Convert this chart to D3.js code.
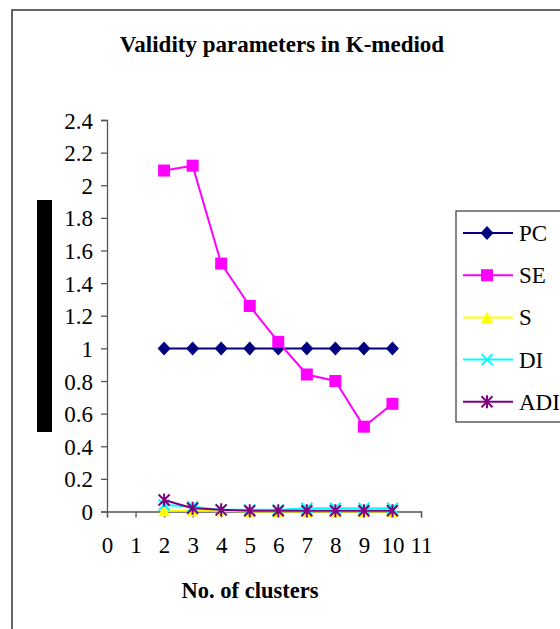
<!DOCTYPE html>
<html>
<head>
<meta charset="utf-8">
<script src="https://cdn.jsdelivr.net/npm/d3@7"></script>
<style>
  body { margin: 0; background: #fff; }
  svg { display: block; }
  svg text { font-family: "Liberation Serif", "Times New Roman", Times, serif; }
</style>
</head>
<body>
<div id="chart"></div>
<script>
// Data
const clusters = [2, 3, 4, 5, 6, 7, 8, 9, 10];
const pcValues = [1, 1, 1, 1, 1, 1, 1, 1, 1];
const seValues = [2.09, 2.12, 1.52, 1.26, 1.04, 0.84, 0.8, 0.52, 0.66];
const sValues = [0.005, 0.005, 0.005, 0, 0, 0, 0, 0, 0];
const diValues = [0.04, 0.03, 0.01, 0.01, 0.01, 0.02, 0.02, 0.02, 0.02];
const adiValues = [0.07, 0.02, 0.01, 0.005, 0.005, 0.005, 0.005, 0.005, 0.005];
const seriesNames = ["PC", "SE", "S", "DI", "ADI"];
const xTicks = d3.range(0, 12);
const yTicks = [0, 0.2, 0.4, 0.6, 0.8, 1, 1.2, 1.4, 1.6, 1.8, 2, 2.2, 2.4];

const colors = {
  PC: "#000080",
  SE: "#FF00FF",
  S: "#FFFF00",
  DI: "#00FFFF",
  ADI: "#800080",
};

const width = 560,
  height = 629;

const series = [
  { name: "PC", values: pcValues, shape: "diamond" },
  { name: "SE", values: seValues, shape: "square" },
  { name: "S", values: sValues, shape: "triangle" },
  { name: "DI", values: diValues, shape: "cross" },
  { name: "ADI", values: adiValues, shape: "star" },
];

const svg = d3
  .select("#chart")
  .append("svg")
  .attr("width", width)
  .attr("height", height);

// Outer frame
svg
  .append("rect")
  .attr("x", 12)
  .attr("y", 10)
  .attr("width", 600)
  .attr("height", 700)
  .attr("fill", "#fff")
  .attr("stroke", "#333")
  .attr("stroke-width", 1.5);

// Black bar on the left
svg
  .append("rect")
  .attr("x", 37)
  .attr("y", 200)
  .attr("width", 15)
  .attr("height", 232)
  .attr("fill", "#000");

const x = d3.scaleLinear().domain([0, 11]).range([107, 421]);
const y = d3.scaleLinear().domain([0, 2.4]).range([511.5, 120]);

// Title
svg
  .append("text")
  .attr("x", 282)
  .attr("y", 52)
  .attr("text-anchor", "middle")
  .attr("font-weight", "bold")
  .style("font-size", "23px")
  .text("Validity parameters in K-mediod");

// Axes
const yAxis = svg
  .append("g")
  .attr("transform", `translate(${x(0)},0)`)
  .call(
    d3
      .axisLeft(y)
      .tickValues(yTicks)
      .tickSize(6)
      .tickPadding(8)
      .tickFormat((d) => String(+d.toFixed(1))),
  );

const xAxis = svg
  .append("g")
  .attr("transform", `translate(0,${y(0)})`)
  .call(d3.axisBottom(x).tickValues(xTicks).tickSize(6).tickPadding(19));

[xAxis, yAxis].forEach((g) => {
  g.attr("font-family", null).attr("font-size", null);
  g.selectAll(".domain").attr("stroke", "#555").attr("stroke-width", 1.3);
  g.selectAll(".tick line").attr("stroke", "#555").attr("stroke-width", 1.3);
  g.selectAll("text").style("font-size", "23px").attr("fill", "#000");
});
yAxis.selectAll("text").attr("dy", "0.35em");

// X axis title
svg
  .append("text")
  .attr("x", 250)
  .attr("y", 598)
  .attr("text-anchor", "middle")
  .attr("font-weight", "bold")
  .style("font-size", "22.5px")
  .text("No. of clusters");

// Marker drawing helper
function drawMarker(g, shape, color) {
  if (shape === "diamond") {
    g.append("path").attr("d", "M0,-7L6.5,0L0,7L-6.5,0Z").attr("fill", color);
  } else if (shape === "square") {
    g.append("rect")
      .attr("x", -6)
      .attr("y", -6)
      .attr("width", 12)
      .attr("height", 12)
      .attr("fill", color);
  } else if (shape === "triangle") {
    g.append("path").attr("d", "M0,-6L6,5.5L-6,5.5Z").attr("fill", color);
  } else if (shape === "cross") {
    g.append("path")
      .attr("d", "M-5.5,-5.5L5.5,5.5M-5.5,5.5L5.5,-5.5")
      .attr("stroke", color)
      .attr("stroke-width", 2);
  } else if (shape === "star") {
    g.append("path")
      .attr("d", "M-5.5,-5.5L5.5,5.5M-5.5,5.5L5.5,-5.5M0,-6.5L0,6.5")
      .attr("stroke", color)
      .attr("stroke-width", 2);
  }
}

const line = d3
  .line()
  .x((d) => x(d[0]))
  .y((d) => y(d[1]));

// Lines then markers, in series order
series.forEach((s) => {
  const pts = clusters.map((c, i) => [c, s.values[i]]);
  svg
    .append("path")
    .datum(pts)
    .attr("d", line)
    .attr("fill", "none")
    .attr("stroke", colors[s.name])
    .attr("stroke-width", 2);
  pts.forEach((p) => {
    const g = svg
      .append("g")
      .attr("transform", `translate(${x(p[0])},${y(p[1])})`);
    drawMarker(g, s.shape, colors[s.name]);
  });
});

// Legend
const legend = svg.append("g");
legend
  .append("rect")
  .attr("x", 456)
  .attr("y", 211)
  .attr("width", 120)
  .attr("height", 211)
  .attr("fill", "#fff")
  .attr("stroke", "#444")
  .attr("stroke-width", 1.3);

seriesNames.forEach((name, i) => {
  const s = series[i];
  const yy = 233 + i * 42.2;
  legend
    .append("line")
    .attr("x1", 463)
    .attr("x2", 513)
    .attr("y1", yy)
    .attr("y2", yy)
    .attr("stroke", colors[name])
    .attr("stroke-width", 2);
  const g = legend.append("g").attr("transform", `translate(487,${yy})`);
  drawMarker(g, s.shape, colors[name]);
  legend
    .append("text")
    .attr("x", 519)
    .attr("y", yy)
    .attr("dy", "0.35em")
    .style("font-size", "23px")
    .text(name);
});
</script>
</body>
</html>
